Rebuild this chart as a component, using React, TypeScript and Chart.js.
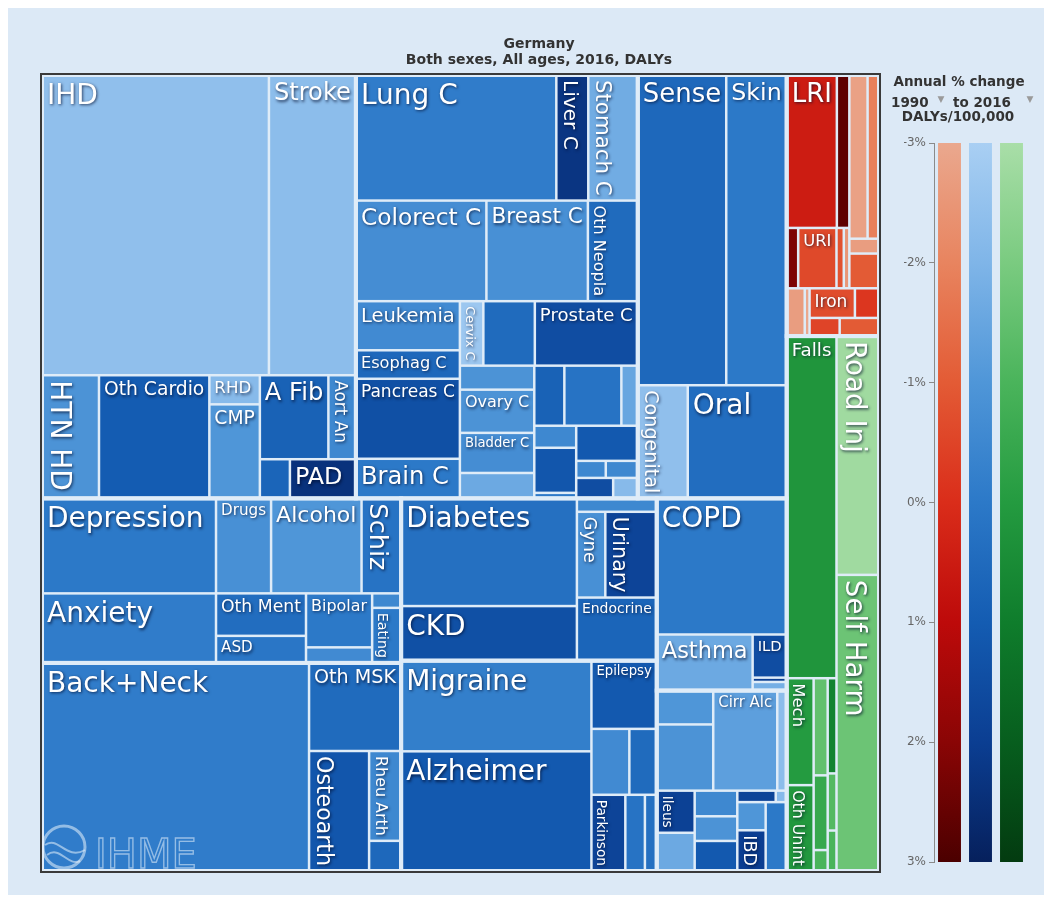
import React, { useEffect, useRef } from 'react';
import { Chart, registerables } from 'chart.js';

Chart.register(...registerables);

const FONT = '"DejaVu Sans", Verdana, sans-serif';

// ---------- text ----------
const titleLines = ['Germany', 'Both sexes, All ages, 2016, DALYs'];
const legendTitle = 'Annual % change';
const legendYears = ['1990', 'to 2016'];
const legendUnit = 'DALYs/100,000';

// ---------- colour scale: annual % change 1990-2016 ----------
const changeTicks = [-3, -2, -1, 0, 1, 2, 3];
const legendFamilies = ['Communicable', 'Non-communicable', 'Injuries'];
const redStops = ['#eaa88e', '#e8845f', '#e35b35', '#da2d1a', '#bd0a0a', '#8a0505', '#4b0000'];
const blueStops = ['#a9cff3', '#7fb5e8', '#4f96d8', '#2c79c8', '#145cb2', '#0b3e92', '#06205c'];
const greenStops = ['#a9dea8', '#7acb80', '#4ab45b', '#249b40', '#0f7d2c', '#075e1e', '#033b10'];

// ---------- data: DALYs per 100,000 and annual % change ----------
// Cardiovascular
const cardioNames = ['IHD', 'Stroke', 'HTN HD', 'Oth Cardio', 'RHD', 'CMP', 'A Fib', 'Aort An', '', 'PAD'];
const cardioDalys = [3243, 1243, 334, 647, 70, 226, 274, 110, 56, 123];
const cardioChange = [-2.4, -2.3, -0.9, 1.0, -2.2, -1.0, 0.8, -0.5, 0.7, 2.4];

// Neoplasms
const neoNames = ['Lung C', 'Liver C', 'Stomach C', 'Colorect C', 'Breast C', 'Oth Neopla', 'Leukemia', 'Esophag C',
  'Pancreas C', 'Brain C', 'Cervix C', '', 'Prostate C', '', 'Ovary C', 'Bladder C', '', '', '', '', '', '', '', '', '', '', '', ''];
const neoDalys = [1198, 191, 296, 625, 486, 239, 243, 141, 396, 196, 72, 158, 316, 85, 153, 142, 90, 86, 163, 47, 44, 90, 11, 103, 24, 26, 36, 24];
const neoChange = [-0.1, 2.3, -1.7, -0.7, -0.8, 0.5, -0.6, 0.6, 1.4, 0.0, -2.7, 0.5, 1.5, -0.9, -0.9, -0.7, -1.6, 0.8, 0.2, -1.5, -0.5, 1.2, 0.0, 1.1, -0.5, -0.5, 1.5, -2.2];

// Sense organs, skin, congenital, oral
const otherNames = ['Sense', 'Skin', 'Congenital', 'Oral'];
const otherDalys = [1306, 893, 269, 533];
const otherChange = [0.6, 0.0, -2.4, 0.4];

// Mental & substance use
const mentalNames = ['Depression', 'Anxiety', 'Drugs', 'Alcohol', 'Schiz', 'Oth Ment', 'ASD', 'Bipolar', '', '', 'Eating'];
const mentalDalys = [787, 576, 249, 409, 179, 182, 116, 170, 49, 20, 76];
const mentalChange = [0.0, -0.1, -0.8, -1.0, 0.2, 0.4, 0.1, 0.0, -0.6, -0.5, 0.0];

// Musculoskeletal
const mskNames = ['Back+Neck', 'Oth MSK', 'Osteoarth', 'Rheu Arth', ''];
const mskDalys = [2645, 386, 343, 137, 46];
const mskChange = [-0.1, 0.5, 1.2, -0.5, 0.6];

// Diabetes, urogenital, endocrine
const diabNames = ['Diabetes', 'CKD', '', 'Gyne', 'Urinary', 'Endocrine'];
const diabDalys = [901, 457, 51, 116, 210, 240];
const diabChange = [0.3, 1.4, -0.5, -0.8, 1.8, 0.7];

// Neurological
const neuroNames = ['Migraine', 'Alzheimer', 'Epilepsy', '', '', 'Parkinson', '', ''];
const neuroDalys = [821, 1084, 212, 119, 86, 123, 71, 43];
const neuroChange = [-0.2, 1.1, 1.1, -0.6, 0.5, 1.8, 0.2, 0.3];

// Chronic respiratory
const respNames = ['COPD', 'Asthma', 'ILD', '', ''];
const respDalys = [842, 256, 70, 7, 14];
const respChange = [0.0, -1.6, 1.5, 2.0, -1.8];

// Digestive
const digestNames = ['', '', 'Cirr Alc', '', 'Ileus', '', '', '', '', '', '', '', 'IBD', ''];
const digestDalys = [91, 178, 305, 45, 76, 69, 52, 50, 61, 21, 6, 38, 55, 69];
const digestChange = [-1.0, -0.9, -1.3, -2.3, 1.9, -1.6, -0.5, -0.9, 1.1, 1.8, -2.2, -1.0, 2.0, 0.0];

// Communicable, maternal, neonatal, nutritional
const commNames = ['LRI', '', '', 'URI', '', '', '', '', '', '', '', '', 'Iron', '', '', ''];
const commDalys = [365, 91, 33, 110, 21, 16, 142, 89, 21, 49, 41, 11, 64, 34, 26, 34];
const commChange = [0.5, 2.7, 2.2, -0.6, -0.8, -2.5, -2.8, -1.9, -2.7, -1.0, -2.7, -3.0, -0.7, -0.2, -0.5, -1.0];

// Injuries
const injNames = ['Falls', 'Mech', 'Oth Unint', '', '', '', '', '', '', 'Road Inj', 'Self Harm'];
const injDalys = [811, 137, 110, 65, 50, 14, 40, 24, 17, 483, 599];
const injChange = [0.2, 0.0, 0.1, -1.5, -0.5, -1.0, 0.8, -1.2, -1.0, -2.8, -1.7];

// ---------- arrangement (nesting and split direction only; sizes come from the values) ----------
type Node = number | string | any[];
const cardioTree: Node = ['v', ['h', 0, 1], ['h', 2, 3, ['v', 4, 5], ['v', ['h', 6, 7], ['h', 8, 9]]]];
const neoTree: Node = ['v', ['h', 0, 1, 2], ['h', 3, 4, 5],
  ['h', ['v', 6, 7, 8, 9],
    ['v', ['h', 10, 11, 12],
      ['h', ['v', 13, 14, 15, 16],
        ['v', ['h', 17, 18, 19], ['h', ['v', 20, 21, 22], ['v', 23, ['h', 24, 25], ['h', 26, 27]]]]]]]];
const otherTree: Node = ['v', ['h', 0, 1], ['h', 2, 3]];
const mentalTree: Node = ['h', ['v', 0, 1], ['v', ['h', 2, 3, 4], ['h', ['v', 5, 6], ['v', 7, 8], ['v', 9, 10]]]];
const mskTree: Node = ['h', 0, ['v', 1, ['h', 2, ['v', 3, 4]]]];
const diabTree: Node = ['h', ['v', 0, 1], ['v', 2, ['h', 3, 4], 5]];
const neuroTree: Node = ['h', ['v', 0, 1], ['v', 2, ['h', 3, 4], ['h', 5, 6, 7]]];
const respTree: Node = ['v', 0, ['h', 1, ['v', 2, 3, 4]]];
const digestTree: Node = ['v', ['h', ['v', 0, 1], 2, 3], ['h', ['v', 4, 5], ['v', 6, 7, 8], ['v', ['h', 9, 10], ['h', ['v', 11, 12], 13]]]];
const commTree: Node = ['v', ['h', ['v', ['h', 0, 1], ['h', 2, 3, 4, 5]], ['v', ['h', 6, 7], 8, 9]], ['h', 10, 11, ['v', ['h', 12, 13], ['h', 14, 15]]]];
const injTree: Node = ['h', ['v', 0, ['h', ['v', 1, 2], ['v', 3, 4, 5], ['v', 6, 7, 8]]], ['v', 9, 10]];
const rootTree: Node = ['h',
  ['v', ['h', 'cardio', 'neo', 'other'], ['h', ['v', 'mental', 'msk'], ['v', 'diab', 'neuro'], ['v', 'resp', 'digest']]],
  ['v', 'comm', 'inj']];

interface Group { names: string[]; dalys: number[]; change: number[]; tree: Node; stops: string[]; }
const groups: Record<string, Group> = {
  cardio: { names: cardioNames, dalys: cardioDalys, change: cardioChange, tree: cardioTree, stops: blueStops },
  neo: { names: neoNames, dalys: neoDalys, change: neoChange, tree: neoTree, stops: blueStops },
  other: { names: otherNames, dalys: otherDalys, change: otherChange, tree: otherTree, stops: blueStops },
  mental: { names: mentalNames, dalys: mentalDalys, change: mentalChange, tree: mentalTree, stops: blueStops },
  msk: { names: mskNames, dalys: mskDalys, change: mskChange, tree: mskTree, stops: blueStops },
  diab: { names: diabNames, dalys: diabDalys, change: diabChange, tree: diabTree, stops: blueStops },
  neuro: { names: neuroNames, dalys: neuroDalys, change: neuroChange, tree: neuroTree, stops: blueStops },
  resp: { names: respNames, dalys: respDalys, change: respChange, tree: respTree, stops: blueStops },
  digest: { names: digestNames, dalys: digestDalys, change: digestChange, tree: digestTree, stops: blueStops },
  comm: { names: commNames, dalys: commDalys, change: commChange, tree: commTree, stops: redStops },
  inj: { names: injNames, dalys: injDalys, change: injChange, tree: injTree, stops: greenStops },
};

// ---------- layout (slice and dice, in value space 0..1) ----------
interface Leaf { g: Group; i: number; x0: number; y0: number; x1: number; y1: number; }
interface Box { x0: number; y0: number; x1: number; y1: number; }

function nodeSum(node: Node, g: Group | null): number {
  if (typeof node === 'number') return g ? g.dalys[node] : 0;
  if (typeof node === 'string') { const gg = groups[node]; return nodeSum(gg.tree, gg); }
  return node.slice(1).reduce((s: number, k: Node) => s + nodeSum(k, g), 0);
}

function layout(node: Node, x0: number, y0: number, x1: number, y1: number, g: Group | null, leaves: Leaf[], boxes: Box[]) {
  if (typeof node === 'number') { leaves.push({ g: g as Group, i: node, x0, y0, x1, y1 }); return; }
  if (typeof node === 'string') {
    const gg = groups[node];
    boxes.push({ x0, y0, x1, y1 });
    layout(gg.tree, x0, y0, x1, y1, gg, leaves, boxes);
    return;
  }
  const dir = node[0];
  const kids = node.slice(1);
  const sums = kids.map((k: Node) => nodeSum(k, g));
  const tot = sums.reduce((a: number, b: number) => a + b, 0);
  let acc = 0;
  kids.forEach((k: Node, j: number) => {
    const a0 = acc / tot;
    acc += sums[j];
    const a1 = acc / tot;
    if (dir === 'h') layout(k, x0 + (x1 - x0) * a0, y0, x0 + (x1 - x0) * a1, y1, g, leaves, boxes);
    else layout(k, x0, y0 + (y1 - y0) * a0, x1, y0 + (y1 - y0) * a1, g, leaves, boxes);
  });
}

function hexRgb(h: string) {
  const n = parseInt(h.slice(1), 16);
  return [(n >> 16) & 255, (n >> 8) & 255, n & 255];
}
function colorFor(stops: string[], c: number) {
  const t = Math.max(0, Math.min(stops.length - 1, c - changeTicks[0]));
  const i = Math.min(stops.length - 2, Math.floor(t));
  const f = t - i;
  const a = hexRgb(stops[i]);
  const b = hexRgb(stops[i + 1]);
  const m = a.map((v, k) => Math.round(v + (b[k] - v) * f));
  return `rgb(${m[0]},${m[1]},${m[2]})`;
}

const GAP = '#dfecf8';

function drawLabel(ctx: CanvasRenderingContext2D, name: string, x0: number, y0: number, x1: number, y1: number) {
  const w = x1 - x0;
  const h = y1 - y0;
  ctx.font = `100px ${FONT}`;
  const em = ctx.measureText(name).width / 100;
  const fsH = Math.min(28, (w - 10) / em, (h - 6) * 0.72);
  const fsV = Math.min(28, (h - 10) / em, (w - 4) * 0.72);
  ctx.fillStyle = '#ffffff';
  ctx.shadowColor = 'rgba(0,10,40,0.7)';
  ctx.shadowBlur = 3;
  ctx.shadowOffsetX = 1;
  ctx.shadowOffsetY = 1.5;
  if (fsH >= 12.5 || (fsH >= 8 && fsV < 8)) {
    ctx.font = `${fsH}px ${FONT}`;
    ctx.textAlign = 'left';
    ctx.textBaseline = 'top';
    ctx.fillText(name, x0 + 5, y0 + 2 + fsH * 0.2);
  } else if (fsV >= 8) {
    ctx.save();
    ctx.font = `${fsV}px ${FONT}`;
    ctx.textAlign = 'left';
    ctx.textBaseline = 'alphabetic';
    ctx.translate(x0 + 3 + fsV * 0.22, y0 + 5);
    ctx.rotate(Math.PI / 2);
    ctx.fillText(name, 0, 0);
    ctx.restore();
  }
}

const treemapPlugin = {
  id: 'treemapCells',
  beforeDatasetsDraw(chart: any) {
    const { ctx, chartArea: a } = chart;
    const xs = chart.scales.x;
    const ys = chart.scales.y;
    const leaves: Leaf[] = [];
    const boxes: Box[] = [];
    layout(rootTree, 0, 0, 1, 1, null, leaves, boxes);
    const P = (l: Box) => ({
      X0: xs.getPixelForValue(l.x0), X1: xs.getPixelForValue(l.x1),
      Y0: ys.getPixelForValue(l.y0), Y1: ys.getPixelForValue(l.y1),
    });
    ctx.save();
    ctx.fillStyle = GAP;
    ctx.fillRect(a.left, a.top, a.right - a.left, a.bottom - a.top);
    const ins = 1.25;
    leaves.forEach((l) => {
      const r = P(l);
      ctx.fillStyle = colorFor(l.g.stops, l.g.change[l.i]);
      ctx.fillRect(r.X0 + ins, r.Y0 + ins, r.X1 - r.X0 - 2 * ins, r.Y1 - r.Y0 - 2 * ins);
    });
    ctx.strokeStyle = GAP;
    ctx.lineWidth = 4;
    boxes.forEach((b) => {
      const r = P(b);
      ctx.strokeRect(r.X0, r.Y0, r.X1 - r.X0, r.Y1 - r.Y0);
    });
    // logo watermark
    const cx = a.left + 22;
    const cy = a.bottom - 24;
    ctx.strokeStyle = 'rgba(232,242,252,0.55)';
    ctx.lineWidth = 3;
    ctx.beginPath();
    ctx.arc(cx, cy, 21, 0, Math.PI * 2);
    ctx.stroke();
    ctx.lineWidth = 2;
    ctx.beginPath();
    ctx.moveTo(cx - 19, cy - 2);
    ctx.bezierCurveTo(cx - 6, cy - 12, cx + 2, cy + 14, cx + 21, cy + 3);
    ctx.stroke();
    ctx.beginPath();
    ctx.moveTo(cx - 17, cy + 8);
    ctx.bezierCurveTo(cx - 4, cy - 2, cx + 4, cy + 20, cx + 16, cy + 14);
    ctx.stroke();
    ctx.font = `40px ${FONT}`;
    ctx.lineWidth = 1.3;
    ctx.textAlign = 'left';
    ctx.textBaseline = 'alphabetic';
    ctx.strokeText('IHME', a.left + 53, a.bottom - 3);
    // frame
    ctx.strokeStyle = '#3a3a3a';
    ctx.lineWidth = 2;
    ctx.strokeRect(a.left - 1, a.top - 1, a.right - a.left + 2, a.bottom - a.top + 2);
    // labels
    leaves.forEach((l) => {
      const name = l.g.names[l.i];
      if (!name) return;
      const r = P(l);
      drawLabel(ctx, name, r.X0, r.Y0, r.X1, r.Y1);
    });
    ctx.restore();
  },
  afterDraw(chart: any) {
    const { ctx } = chart;
    ctx.save();
    ctx.fillStyle = '#333333';
    ctx.font = `bold 14px ${FONT}`;
    ctx.textAlign = 'center';
    ctx.textBaseline = 'alphabetic';
    ctx.fillText(titleLines[0], chart.width / 2, 40);
    ctx.fillText(titleLines[1], chart.width / 2, 56);
    ctx.restore();
  },
};

const legendHeaderPlugin = {
  id: 'legendHeader',
  afterDraw(chart: any) {
    const { ctx } = chart;
    ctx.save();
    ctx.fillStyle = '#333333';
    ctx.textBaseline = 'alphabetic';
    ctx.font = `bold 13.5px ${FONT}`;
    ctx.textAlign = 'center';
    ctx.fillText(legendTitle, 79, 26);
    ctx.fillText(legendUnit, 78, 61);
    ctx.textAlign = 'left';
    ctx.fillText(legendYears[0], 11, 47);
    ctx.fillText(legendYears[1], 73, 47);
    ctx.fillStyle = '#9a9a9a';
    ctx.font = `9px ${FONT}`;
    ctx.textAlign = 'center';
    ctx.fillText('\u25BC', 61, 42);
    ctx.fillText('\u25BC', 150, 42);
    ctx.restore();
  },
};

const familyStops = [redStops, blueStops, greenStops];

export default function App() {
  const mainRef = useRef<HTMLCanvasElement>(null);
  const legRef = useRef<HTMLCanvasElement>(null);

  useEffect(() => {
    const main = new Chart(mainRef.current as HTMLCanvasElement, {
      type: 'scatter',
      data: { datasets: [{ data: [] }] },
      options: {
        animation: false,
        responsive: false,
        events: [],
        layout: { padding: { left: 4, right: 161, top: 67, bottom: 24 } },
        scales: {
          x: { type: 'linear', min: 0, max: 1, display: false },
          y: { type: 'linear', min: 0, max: 1, reverse: true, display: false },
        },
        plugins: { legend: { display: false }, tooltip: { enabled: false }, title: { display: false } },
      },
      plugins: [treemapPlugin],
    } as any);

    const leg = new Chart(legRef.current as HTMLCanvasElement, {
      type: 'bar',
      data: {
        labels: legendFamilies,
        datasets: [{
          data: legendFamilies.map(() => [changeTicks[0], changeTicks[changeTicks.length - 1]]),
          backgroundColor: (c: any) => {
            const chart = c.chart;
            const area = chart.chartArea;
            const stops = familyStops[c.dataIndex];
            if (!area) return stops[3];
            const g = chart.ctx.createLinearGradient(0, area.top, 0, area.bottom);
            stops.forEach((s: string, i: number) => g.addColorStop(i / (stops.length - 1), s));
            return g;
          },
          borderWidth: 0,
          barPercentage: 0.74,
          categoryPercentage: 1,
        }],
      },
      options: {
        animation: false,
        responsive: false,
        events: [],
        layout: { padding: { left: 24, right: 17, top: 83, bottom: 28 } },
        scales: {
          x: { type: 'category', display: false },
          y: {
            type: 'linear',
            min: changeTicks[0],
            max: changeTicks[changeTicks.length - 1],
            reverse: true,
            afterFit: (s: any) => { s.width = 30; },
            ticks: {
              stepSize: 1,
              padding: 3,
              color: '#666666',
              font: { family: FONT, size: 12 },
              callback: (v: any) => `${v}%`,
            },
            grid: { drawOnChartArea: false, drawTicks: true, tickLength: 5, color: '#8a8a8a', lineWidth: 1 },
            border: { display: true, color: '#8a8a8a', width: 1 },
          },
        },
        plugins: { legend: { display: false }, tooltip: { enabled: false } },
      },
      plugins: [legendHeaderPlugin],
    } as any);

    return () => {
      main.destroy();
      leg.destroy();
    };
  }, []);

  return (
    <div style={{ position: 'relative', width: 1036, height: 887, background: '#dce9f6', overflow: 'hidden' }}>
      <canvas ref={mainRef} width={1002} height={887} style={{ position: 'absolute', left: 30, top: 0 }} />
      <canvas ref={legRef} width={164} height={830} style={{ position: 'absolute', left: 872, top: 52 }} />
    </div>
  );
}
